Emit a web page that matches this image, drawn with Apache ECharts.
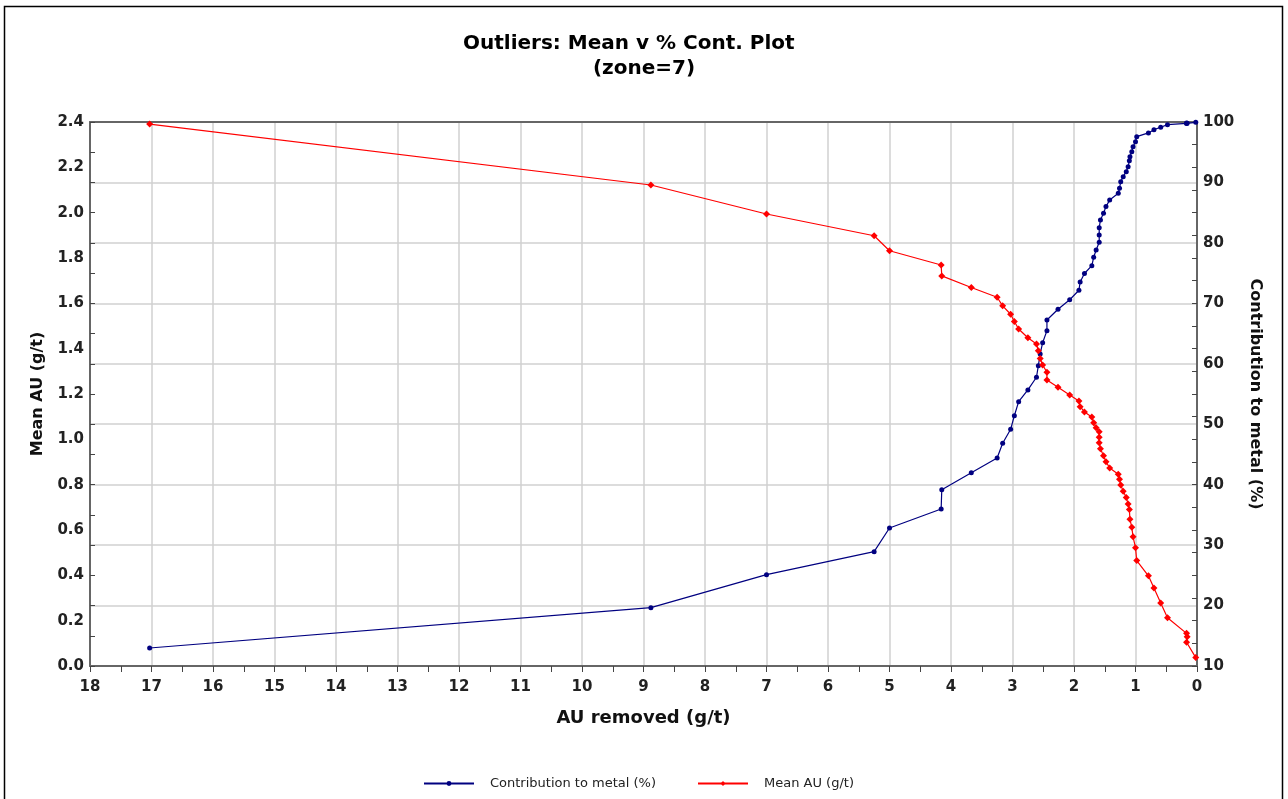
<!DOCTYPE html>
<html>
<head>
    <meta charset="UTF-8">
    <title>Outliers: Mean v % Cont. Plot</title>
    <script src="https://cdn.jsdelivr.net/npm/echarts@6/dist/echarts.min.js"></script>
    <style>
        html, body { margin: 0; padding: 0; background: #fff; }
        #chart { width: 1288px; height: 799px; }
    </style>
</head>
<body>
<div id="chart"></div>
<script type="text/javascript">
    // AU removed (g/t) for each cut step
    var auRemoved = [17.03, 8.88, 7.00, 5.25, 5.00, 4.16, 4.15, 3.67, 3.25, 3.16,
        3.03, 2.97, 2.90, 2.75, 2.61, 2.58, 2.55, 2.51, 2.44, 2.44,
        2.26, 2.07, 1.92, 1.90, 1.83, 1.71, 1.68, 1.64, 1.59, 1.59,
        1.59, 1.57, 1.52, 1.48, 1.42, 1.28, 1.26, 1.24, 1.20, 1.15,
        1.12, 1.10, 1.09, 1.06, 1.04, 1.00, 0.98, 0.79, 0.70, 0.59,
        0.48, 0.17, 0.16, 0.17, 0.02];
    // Mean AU (g/t), left axis
    var meanAU = [2.391, 2.122, 1.994, 1.898, 1.832, 1.769, 1.721, 1.670, 1.627, 1.589,
        1.552, 1.520, 1.487, 1.448, 1.421, 1.391, 1.357, 1.328, 1.296, 1.262,
        1.230, 1.196, 1.169, 1.144, 1.121, 1.099, 1.073, 1.051, 1.034, 1.009,
        0.985, 0.958, 0.928, 0.901, 0.874, 0.846, 0.824, 0.799, 0.771, 0.743,
        0.715, 0.690, 0.647, 0.612, 0.570, 0.522, 0.465, 0.398, 0.344, 0.278,
        0.213, 0.144, 0.129, 0.105, 0.037];
    // Contribution to metal (%), right axis
    var contribution = [12.98, 19.65, 25.11, 28.91, 32.83, 35.98, 39.17, 41.98, 44.41, 46.85,
        49.16, 51.41, 53.73, 55.67, 57.77, 59.69, 61.62, 63.49, 65.48, 67.25,
        69.02, 70.59, 72.16, 73.53, 74.94, 76.23, 77.62, 78.83, 80.10, 81.31,
        82.52, 83.79, 84.90, 86.00, 87.10, 88.21, 89.04, 90.13, 90.96, 91.78,
        92.61, 93.60, 94.27, 95.09, 95.92, 96.75, 97.57, 98.19, 98.73, 99.13,
        99.56, 99.76, 99.80, 99.84, 99.95];

    var font = 'DejaVu Sans';

    function pairs(ys) {
        var out = [];
        for (var i = 0; i < auRemoved.length; i++) {
            out.push([auRemoved[i], ys[i]]);
        }
        return out;
    }

    var chart = echarts.init(document.getElementById('chart'));

    var tickStyle = { color: '#444', width: 1 };
    var titleStyle = { fontFamily: font, fontSize: 20, fontWeight: 'bold', color: '#000' };

    var option = {
        animation: false,
        backgroundColor: '#fff',
        textStyle: { fontFamily: font },
        title: [
            { text: 'Outliers: Mean v % Cont. Plot', left: 458, top: 29, textStyle: titleStyle },
            { text: '(zone=7)', left: 'center', top: 54, textStyle: titleStyle }
        ],
        legend: {
            bottom: 4,
            left: 418,
            itemWidth: 50,
            itemHeight: 6,
            itemGap: 41,
            textStyle: { fontFamily: font, fontSize: 13, color: '#222', padding: [0, 0, 0, 11] },
            data: ['Contribution to metal (%)', 'Mean AU (g/t)']
        },
        grid: {
            left: 90,
            right: 91,
            top: 122,
            bottom: 133
        },
        xAxis: [
            {
                type: 'value',
                inverse: true,
                min: 0,
                max: 18,
                interval: 1,
                name: 'AU removed (g/t)',
                nameLocation: 'middle',
                nameGap: 43,
                nameTextStyle: { fontFamily: font, fontSize: 18, fontWeight: 'bold', color: '#111' },
                axisLine: { lineStyle: { color: '#666', width: 2 } },
                axisTick: { length: 6, lineStyle: tickStyle },
                minorTick: { show: true, splitNumber: 2, length: 6, lineStyle: tickStyle },
                axisLabel: { fontFamily: font, fontSize: 15, fontWeight: 'bold', color: '#222', margin: 14 },
                splitLine: { show: true, lineStyle: { color: '#d0d0d0', width: 1.5 } }
            },
            {
                // top frame line of the plot area
                type: 'value',
                position: 'top',
                min: 0,
                max: 18,
                axisLine: { show: true, onZero: false, lineStyle: { color: '#666', width: 2 } },
                axisTick: { show: false },
                axisLabel: { show: false },
                splitLine: { show: false }
            }
        ],
        yAxis: [
            {
                type: 'value',
                position: 'left',
                min: 0,
                max: 2.4,
                interval: 0.2,
                name: 'Mean AU (g/t)',
                nameLocation: 'middle',
                nameGap: 44,
                nameTextStyle: { fontFamily: font, fontSize: 16, fontWeight: 'bold', color: '#111' },
                axisLine: { show: true, lineStyle: { color: '#666', width: 2 } },
                axisTick: { show: true, length: 5, lineStyle: tickStyle },
                minorTick: { show: true, splitNumber: 2, length: 5, lineStyle: tickStyle },
                axisLabel: {
                    fontFamily: font, fontSize: 15, fontWeight: 'bold', color: '#222', margin: 6,
                    formatter: function (v) { return v.toFixed(1); }
                },
                splitLine: { show: false }
            },
            {
                type: 'value',
                position: 'right',
                min: 10,
                max: 100,
                interval: 10,
                name: 'Contribution to metal (%)',
                nameLocation: 'middle',
                nameGap: 50,
                nameRotate: -90,
                nameTextStyle: { fontFamily: font, fontSize: 16, fontWeight: 'bold', color: '#111' },
                axisLine: { show: true, lineStyle: { color: '#666', width: 2 } },
                axisTick: { show: true, length: 5, lineStyle: tickStyle },
                minorTick: { show: true, splitNumber: 2, length: 5, lineStyle: tickStyle },
                axisLabel: { fontFamily: font, fontSize: 15, fontWeight: 'bold', color: '#222', margin: 6 },
                splitLine: { show: true, lineStyle: { color: '#d0d0d0', width: 1.5 } }
            }
        ],
        graphic: [
            {
                type: 'rect',
                shape: { x: 4.5, y: 6.5, width: 1278, height: 800 },
                style: { fill: null, stroke: '#000', lineWidth: 1.5 },
                silent: true
            }
        ],
        series: [
            {
                name: 'Contribution to metal (%)',
                type: 'line',
                yAxisIndex: 1,
                data: pairs(contribution),
                symbol: 'circle',
                symbolSize: 5,
                itemStyle: { color: '#000080' },
                lineStyle: { color: '#000080', width: 1.2 }
            },
            {
                name: 'Mean AU (g/t)',
                type: 'line',
                yAxisIndex: 0,
                data: pairs(meanAU),
                symbol: 'diamond',
                symbolSize: 7,
                itemStyle: { color: '#ff0000' },
                lineStyle: { color: '#ff0000', width: 1.2 }
            }
        ]
    };

    chart.setOption(option);
</script>
</body>
</html>
